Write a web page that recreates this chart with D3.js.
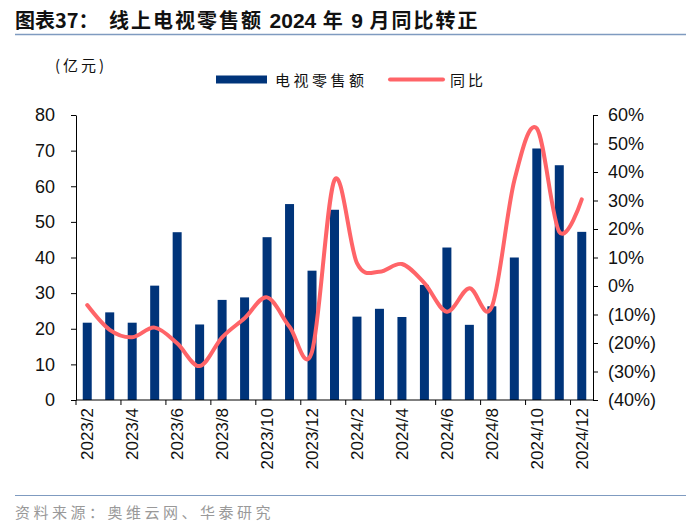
<html>
<head>
  <meta charset="utf-8">
  <script src="https://d3js.org/d3.v7.min.js"></script>
  <style>
    body { margin: 0; background: #fff; }
  </style>
</head>
<body>
  <div id="chart"></div>
  <script>
    // data
    const months = ["2023/2","2023/3","2023/4","2023/5","2023/6","2023/7","2023/8","2023/9","2023/10","2023/11","2023/12",
                    "2024/1","2024/2","2024/3","2024/4","2024/5","2024/6","2024/7","2024/8","2024/9","2024/10","2024/11","2024/12"];
    const sales = [21.7, 24.6, 21.7, 32.1, 47.1, 21.2, 28.1, 28.8, 45.7, 55.0, 36.3,
                   53.4, 23.4, 25.6, 23.3, 32.3, 42.8, 21.1, 26.3, 40.0, 70.6, 65.9, 47.2];
    const yoy = [-6.7, -15.4, -18.0, -14.6, -20.1, -28.1, -18.0, -11.3, -4.0, -14.3, -23.0,
                 37.2, 8.0, 5.0, 7.7, 1.0, -9.0, -0.8, -7.3, 37.0, 55.3, 19.0, 30.4];
    const leftTicks = [0, 10, 20, 30, 40, 50, 60, 70, 80];
    const rightTicks = [-40, -30, -20, -10, 0, 10, 20, 30, 40, 50, 60];

    const width = 700, height = 529;
    const margin = { top: 115, right: 107, bottom: 129, left: 76 };
    const barColor = "#00347a";
    const lineColor = "#ff6468";
    const font = "Liberation Sans, Arial, sans-serif";
    const cjk = "Noto Sans CJK SC, sans-serif";

    const svg = d3.select("#chart").append("svg")
      .attr("width", width)
      .attr("height", height);

    // title, cjk parts spaced a little, numbers tight
    const title = svg.append("text")
      .attr("y", 28)
      .attr("font-family", cjk)
      .attr("font-weight", "bold")
      .attr("font-size", 20)
      .attr("fill", "#111");
    title.append("tspan").attr("x", 15).text("图表37：");
    title.append("tspan").attr("x", 109).attr("letter-spacing", 2).text("线上电视零售额 ");
    title.append("tspan").attr("font-family", font).attr("font-size", 21).text("2024");
    title.append("tspan").attr("letter-spacing", 2).text(" 年 ");
    title.append("tspan").attr("font-family", font).attr("font-size", 21).text("9");
    title.append("tspan").attr("letter-spacing", 2).text(" 月同比转正");

    svg.append("line")
      .attr("x1", 15).attr("x2", 686)
      .attr("y1", 34.5).attr("y2", 34.5)
      .attr("stroke", "#7f9bc0").attr("stroke-width", 1.5);

    svg.append("text")
      .attr("x", 55).attr("y", 71)
      .attr("font-family", cjk)
      .attr("font-size", 15)
      .attr("letter-spacing", 3)
      .attr("fill", "#111")
      .text("(亿元)");

    // legend
    svg.append("rect")
      .attr("x", 216).attr("y", 75.5).attr("width", 51).attr("height", 8)
      .attr("fill", barColor);
    svg.append("text")
      .attr("x", 275).attr("y", 86)
      .attr("font-family", cjk).attr("font-size", 15)
      .attr("letter-spacing", 3.5)
      .attr("fill", "#111")
      .text("电视零售额");
    svg.append("line")
      .attr("x1", 390).attr("x2", 443).attr("y1", 79.5).attr("y2", 79.5)
      .attr("stroke", lineColor).attr("stroke-width", 4).attr("stroke-linecap", "round");
    svg.append("text")
      .attr("x", 450).attr("y", 86)
      .attr("font-family", cjk).attr("font-size", 15)
      .attr("letter-spacing", 3)
      .attr("fill", "#111")
      .text("同比");

    // scales
    const x = d3.scaleBand()
      .domain(months)
      .range([margin.left, width - margin.right])
      .paddingInner(0.6)
      .paddingOuter(0.3);

    const y = d3.scaleLinear()
      .domain([0, 80])
      .range([height - margin.bottom, margin.top]);

    const y2 = d3.scaleLinear()
      .domain([-40, 60])
      .range([height - margin.bottom, margin.top]);

    // bars
    svg.append("g")
      .attr("fill", barColor)
      .selectAll("rect")
      .data(sales)
      .join("rect")
        .attr("x", (d, i) => x(months[i]))
        .attr("y", d => y(d))
        .attr("width", x.bandwidth())
        .attr("height", d => y(0) - y(d));

    // yoy line, smoothed like the excel original
    const line = d3.line()
      .x((d, i) => x(months[i]) + x.bandwidth() / 2)
      .y(d => y2(d))
      .curve(d3.curveCardinal.tension(0));

    svg.append("path")
      .datum(yoy)
      .attr("fill", "none")
      .attr("stroke", lineColor)
      .attr("stroke-width", 4)
      .attr("stroke-linejoin", "round")
      .attr("stroke-linecap", "round")
      .attr("d", line);

    // left axis
    const yAxis = svg.append("g")
      .attr("transform", `translate(${margin.left},0)`)
      .call(d3.axisLeft(y).tickValues(leftTicks).tickSize(5).tickSizeOuter(0).tickPadding(16));
    yAxis.selectAll("text").attr("font-family", font).attr("font-size", 18).attr("fill", "#111");

    // right axis
    const fmt = d => d < 0 ? `(${-d}%)` : `${d}%`;
    const y2Axis = svg.append("g")
      .attr("transform", `translate(${width - margin.right},0)`)
      .call(d3.axisRight(y2).tickValues(rightTicks).tickFormat(fmt).tickSize(5).tickSizeOuter(0).tickPadding(10));
    y2Axis.selectAll("text").attr("font-family", font).attr("font-size", 18).attr("fill", "#111");

    // x axis: ticks every two months between categories, labels on odd months
    const xAxisG = svg.append("g")
      .attr("transform", `translate(0,${height - margin.bottom})`);
    xAxisG.append("line")
      .attr("x1", margin.left).attr("x2", width - margin.right)
      .attr("stroke", "#000");
    const step = x.step();
    const tickIdx = d3.range(0, months.length, 2);
    xAxisG.selectAll(".tk")
      .data(tickIdx)
      .join("line")
        .attr("class", "tk")
        .attr("x1", i => x(months[i]) - (step - x.bandwidth()) / 2)
        .attr("x2", i => x(months[i]) - (step - x.bandwidth()) / 2)
        .attr("y1", 0).attr("y2", 5)
        .attr("stroke", "#000");
    xAxisG.selectAll(".lb")
      .data(tickIdx)
      .join("text")
        .attr("class", "lb")
        .attr("transform", i => `translate(${x(months[i]) + x.bandwidth() / 2 + 6},8) rotate(-90)`)
        .attr("text-anchor", "end")
        .attr("font-family", font)
        .attr("font-size", 17)
        .attr("fill", "#111")
        .text(i => months[i]);

    // source
    svg.append("line")
      .attr("x1", 15).attr("x2", 686)
      .attr("y1", 495.5).attr("y2", 495.5)
      .attr("stroke", "#7f9bc0").attr("stroke-width", 1.2);
    svg.append("text")
      .attr("x", 15).attr("y", 518)
      .attr("font-family", cjk)
      .attr("font-size", 15)
      .attr("letter-spacing", 3.5)
      .attr("fill", "#999")
      .text("资料来源：奥维云网、华泰研究");
  </script>
</body>
</html>
